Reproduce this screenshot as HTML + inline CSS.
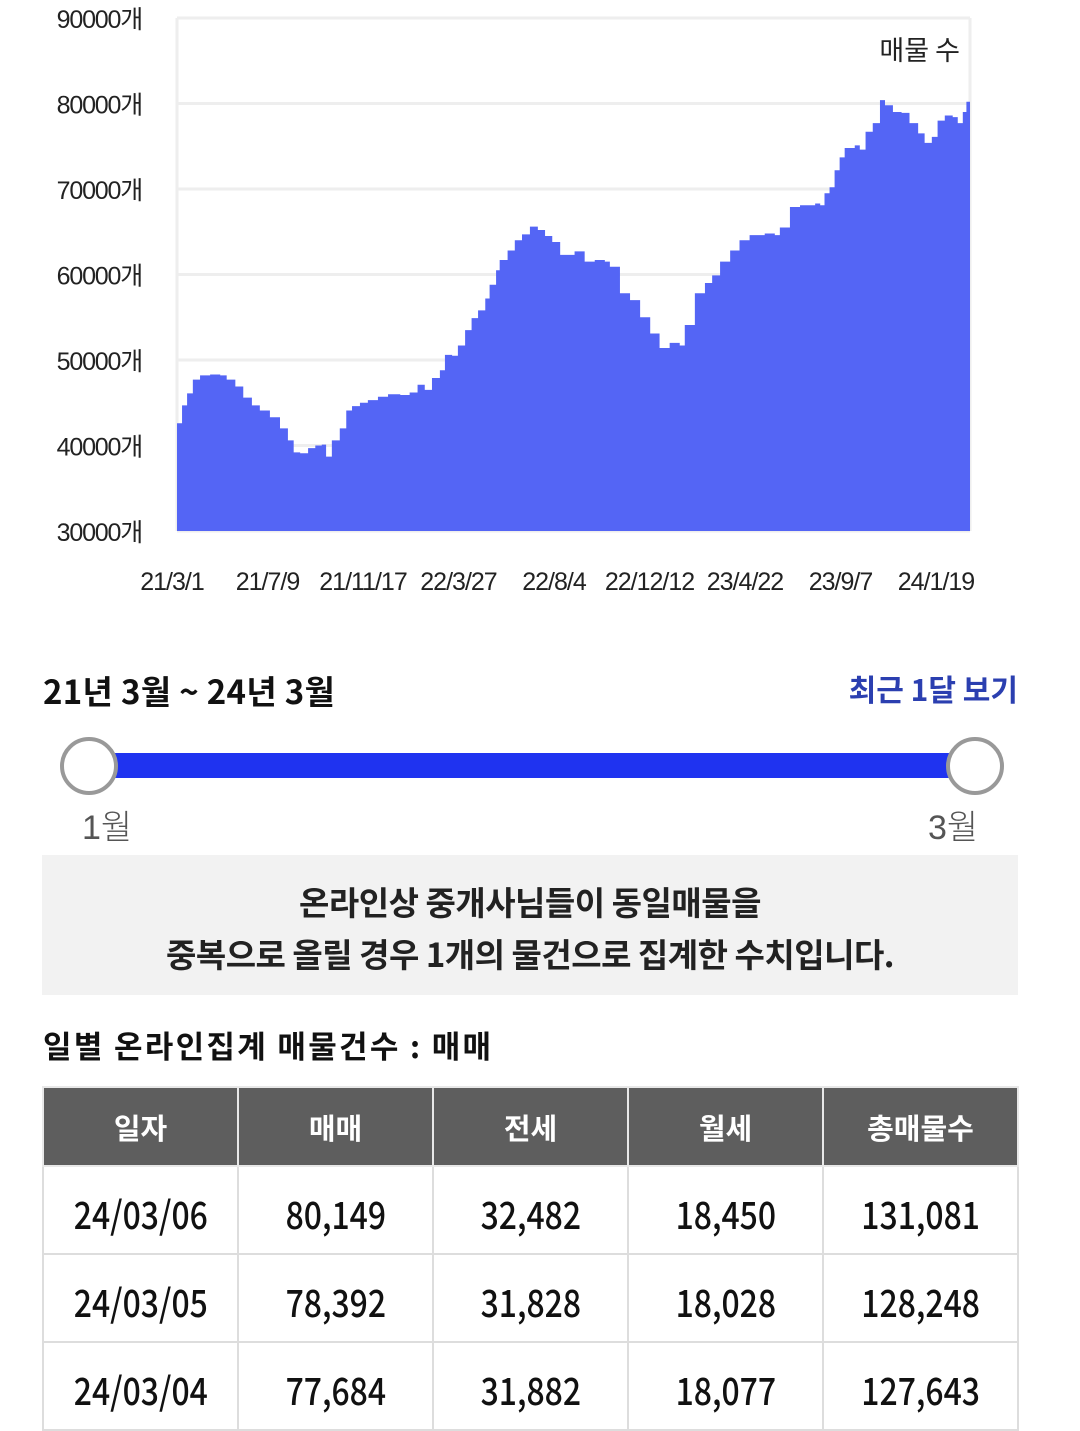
<!DOCTYPE html>
<html><head><meta charset="utf-8">
<style>
body{margin:0;width:1080px;height:1430px;overflow:hidden;background:#fff;font-family:"Liberation Sans","Noto Sans CJK KR",sans-serif;color:#111}
.abs{position:absolute}
#chart{position:absolute;left:0;top:0}
.ttl{left:43px;top:666px;font-size:33px;font-weight:bold;letter-spacing:0.3px;font-family:"Noto Sans CJK KR",sans-serif}
.recent{right:62px;top:666px;font-size:30px;font-weight:bold;color:#2b3fb0;letter-spacing:0px;font-family:"Noto Sans CJK KR",sans-serif}
.track{left:90px;top:753px;width:886px;height:25px;background:#1f33f0}
.knob{width:58px;height:58px;border-radius:50%;border:4px solid #999;background:#fff;box-sizing:border-box;top:737px}
.lbl{font-size:34px;color:#555;top:800px;font-weight:300}
.note{left:42px;top:855px;width:976px;height:140px;background:#f2f2f2;text-align:center;font-size:33px;font-weight:bold;line-height:52px;padding-top:20px;box-sizing:border-box;color:#222;font-family:"Noto Sans CJK KR",sans-serif;letter-spacing:-0.5px}
.sub{left:43px;top:1022px;font-size:31px;font-weight:bold;font-family:"Noto Sans CJK KR",sans-serif;letter-spacing:2.3px}
table{position:absolute;left:42px;top:1086px;border-collapse:collapse;width:977px;table-layout:fixed}
th,td{border:2px solid #ddd;text-align:center;padding:0}
th{background:#5e5e5e;color:#fff;height:77px;font-size:29px;font-family:"Noto Sans CJK KR",sans-serif;border-color:#e8e8e8}
td{height:86px;font-size:38px;color:#111;font-family:"Noto Sans CJK KR",sans-serif;font-weight:500}
td span{display:inline-block;transform:scaleX(0.84);position:relative;top:2px}
</style></head><body>
<svg id="chart" width="1080" height="620"></svg>
<script>
const tickVals=[30000,40000,50000,60000,70000,80000,90000];
const xLabels=["21/3/1","21/7/9","21/11/17","22/3/27","22/8/4","22/12/12","23/4/22","23/9/7","24/1/19"];
const days=[0,7,14,22,32,46,60,69,81,92,104,115,129,143,154,162,171,182,192,201,207,215,226,235,243,254,265,279,293,310,323,334,344,354,365,372,382,390,400,409,418,428,434,443,448,459,469,479,490,501,511,521,532,545,552,566,580,594,601,615,629,643,657,670,684,698,705,719,733,743,754,768,781,795,816,830,837,851,865,886,893,899,906,913,920,927,941,948,956,966,976,983,994,1006,1017,1029,1038,1048,1056,1066,1077,1084,1091,1096];
const counts=[42600,44700,46100,47700,48200,48300,48200,47700,46900,45600,44700,44100,43300,42000,40600,39200,39100,39700,40000,40100,38700,40600,42000,44100,44600,45000,45300,45700,46000,45900,46200,47100,46500,47900,48800,50600,50500,51700,53500,54900,55800,57200,58800,60500,61700,62800,64000,64700,65600,65200,64500,63800,62300,62300,62700,61500,61700,61500,60900,57800,57000,55000,53100,51400,52000,51700,54100,57800,59000,59900,61500,62800,64000,64600,64800,64600,65500,67900,68100,68300,68100,69500,70200,72200,73700,74800,75100,74600,76700,77700,80400,79800,79000,78900,77700,76500,75400,76100,78000,78600,78400,77700,79000,80200];
const NS="http://www.w3.org/2000/svg";
const svg=document.getElementById('chart');
const X0=177,X1=970,Y0=531,Y1=18,DMAX=1101;
const xs=d=>X0+(d/DMAX)*(X1-X0);
const ys=v=>Y0-(v-30000)/60000*(Y0-Y1);
function mk(t,a){const e=document.createElementNS(NS,t);for(const k in a)e.setAttribute(k,a[k]);svg.appendChild(e);return e;}
tickVals.forEach(v=>{
  const g=mk('line',{x1:X0,x2:X1,y1:ys(v),y2:ys(v),stroke:'#eee','stroke-width':3});
  
  
  const t=mk('text',{x:142,y:ys(v)+10,'text-anchor':'end','font-size':25,fill:'#222','font-family':'"Liberation Sans","Noto Sans CJK KR",sans-serif','letter-spacing':-1.2});
  t.textContent=v+'개';
  
  
});
const ax=mk('line',{x1:X0,x2:X0,y1:Y1,y2:Y0,stroke:'#eee','stroke-width':3});


const ax2=mk('line',{x1:X1,x2:X1,y1:Y1,y2:Y0,stroke:'#eee','stroke-width':3});


let d='M'+xs(0)+','+Y0;
for(let i=0;i<days.length;i++){
  const nx=i+1<days.length?xs(days[i+1]):X1;
  d+=' L'+xs(days[i])+','+ys(counts[i])+' L'+nx+','+ys(counts[i]);
}
d+=' L'+X1+','+Y0+' Z';
const area=mk('path',{d:d,fill:'#5465f5'});


xLabels.forEach((l,i)=>{
  const t=mk('text',{x:172+i*95.5,y:590,'text-anchor':'middle','font-size':25,fill:'#222','font-family':'"Liberation Sans",sans-serif','letter-spacing':-1});
  t.textContent=l;
  
  
});
const lg=mk('text',{x:960,y:60,'text-anchor':'end','font-size':27,fill:'#222','font-family':'"Noto Sans CJK KR",sans-serif'});
lg.textContent='매물 수';


</script>
<div class="abs ttl">21년 3월 ~ 24년 3월</div>
<div class="abs recent">최근 1달 보기</div>
<div class="abs track"></div>
<div class="abs knob" style="left:60px"></div>
<div class="abs knob" style="left:946px"></div>
<div class="abs lbl" style="left:82px">1월</div>
<div class="abs lbl" style="left:928px">3월</div>
<div class="abs note">온라인상 중개사님들이 동일매물을<br>중복으로 올릴 경우 1개의 물건으로 집계한 수치입니다.</div>
<div class="abs sub">일별 온라인집계 매물건수 : 매매</div>
<table>
<tr><th>일자</th><th>매매</th><th>전세</th><th>월세</th><th>총매물수</th></tr>
<tr><td><span>24/03/06</span></td><td><span>80,149</span></td><td><span>32,482</span></td><td><span>18,450</span></td><td><span>131,081</span></td></tr>
<tr><td><span>24/03/05</span></td><td><span>78,392</span></td><td><span>31,828</span></td><td><span>18,028</span></td><td><span>128,248</span></td></tr>
<tr><td><span>24/03/04</span></td><td><span>77,684</span></td><td><span>31,882</span></td><td><span>18,077</span></td><td><span>127,643</span></td></tr>
</table>
</body></html>
